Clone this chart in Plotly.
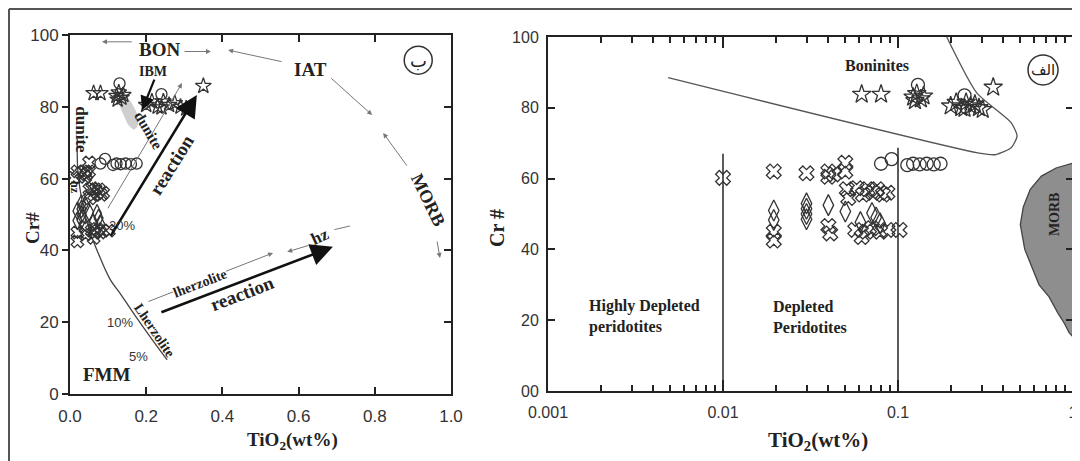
import numpy as np
import plotly.graph_objects as go

W, H = 1080, 461          # browser window
OFF = 8                   # default page body margin
FW, FH = W - OFF, H - OFF # figure size so that it fits the window exactly


def PX(px):
    return (px - OFF) / FW


def PY(py):
    return (H - py) / FH


# ---------------- data (shared by both panels) ----------------
star_tio2 = [0.062, 0.080, 0.122, 0.128, 0.135, 0.140, 0.125, 0.200, 0.215, 0.230,
             0.245, 0.260, 0.275, 0.290, 0.305, 0.240, 0.350]
star_cr = [83.8, 83.8, 83.0, 84.0, 82.5, 83.3, 82.0, 80.5, 81.5, 80.0,
           81.5, 80.5, 81.0, 80.0, 79.5, 79.8, 85.8]

circle_tio2 = [0.130, 0.240, 0.080, 0.092, 0.113, 0.122, 0.133, 0.146, 0.160, 0.175]
circle_cr = [86.5, 83.5, 64.2, 65.5, 63.8, 64.2, 64.0, 64.2, 64.0, 64.2]

cross_tio2 = [0.010, 0.0195, 0.030, 0.040, 0.040, 0.043, 0.050, 0.050, 0.051, 0.052,
              0.058, 0.063, 0.067, 0.072, 0.076, 0.082, 0.087, 0.0195, 0.0195, 0.040,
              0.041, 0.057, 0.062, 0.066, 0.071, 0.079, 0.087, 0.102]
cross_cr = [60.2, 62.0, 61.5, 62.0, 60.5, 61.2, 64.5, 62.0, 57.0, 54.5,
            57.3, 55.5, 57.0, 56.0, 57.0, 55.5, 56.0, 45.0, 42.5, 46.6,
            44.5, 45.5, 43.5, 45.0, 46.0, 45.0, 45.5, 45.5]

diamond_tio2 = [0.0195, 0.0195, 0.030, 0.030, 0.030, 0.030, 0.040, 0.050, 0.061, 0.071,
                0.079, 0.075]
diamond_cr = [51.0, 48.3, 53.0, 51.5, 50.0, 48.5, 52.5, 50.7, 47.7, 50.3, 47.4, 49.0]

# fields / reference lines (right panel)
boninite_tio2 = [0.19, 0.282, 0.443, 0.479, 0.443, 0.363, 0.297, 0.00486]
boninite_cr = [100.0, 84.2, 75.8, 72.0, 68.7, 66.8, 67.1, 88.5]
morb_tio2 = [1.0, 0.80, 0.66, 0.57, 0.52, 0.50, 0.53, 0.57, 0.64, 0.73, 0.82, 0.895, 0.95, 1.0]
morb_cr = [64.4, 63.0, 60.7, 57.0, 52.0, 47.0, 40.0, 36.0, 30.0, 26.6, 22.0, 19.0, 16.5, 15.3]
divider_tio2 = [0.01, 0.1]
divider_top = [67.0, 68.7]

# left panel fields
fmm_tio2 = [0.255, 0.21, 0.166, 0.135, 0.105, 0.075, 0.053, 0.035, 0.025, 0.020, 0.019, 0.019]
fmm_cr = [9.5, 16.0, 22.6, 27.5, 32.0, 39.0, 45.0, 52.0, 58.0, 63.0, 67.0, 71.0]
ibm_tio2 = [0.134, 0.150, 0.165, 0.176, 0.176, 0.168, 0.155, 0.142, 0.131, 0.134]
ibm_cr = [82.7, 82.5, 80.2, 77.4, 74.7, 73.8, 74.9, 77.7, 80.8, 82.7]

x_ticks_lin = [0.0, 0.2, 0.4, 0.6, 0.8, 1.0]
x_ticktext_lin = ['0.0', '0.2', '0.4', '0.6', '0.8', '1.0']
y_ticks = [0, 20, 40, 60, 80, 100]
y_ticktext_left = ['0', '20', '40', '60', '80', '100']
y_ticktext_right = ['00', '20', '40', '60', '80', '100']
x_ticks_log = [0.001, 0.01, 0.1, 1]
x_ticktext_log = ['0.001', '0.01', '0.1', '1']
x_minor_log = [m * d for d in (0.001, 0.01, 0.1) for m in range(2, 10)]

SERIF = 'Liberation Serif'
SANS = 'Liberation Sans'
MC = '#333333'

fig = go.Figure()

# ---------------- lines & fields ----------------
fig.add_trace(go.Scatter(x=morb_tio2, y=morb_cr, mode='lines', fill='toself',
                         fillcolor='#8e8e8e', line=dict(color='#444', width=1.3),
                         xaxis='x2', yaxis='y2', showlegend=False, hoverinfo='skip'))
fig.add_trace(go.Scatter(x=boninite_tio2, y=boninite_cr, mode='lines',
                         line=dict(color='#555', width=1.3, shape='spline', smoothing=0.6),
                         xaxis='x2', yaxis='y2', showlegend=False, hoverinfo='skip'))
for xv, top in zip(divider_tio2, divider_top):
    fig.add_trace(go.Scatter(x=[xv, xv], y=[0, top], mode='lines',
                             line=dict(color='#333', width=1.6),
                             xaxis='x2', yaxis='y2', showlegend=False, hoverinfo='skip'))

fig.add_trace(go.Scatter(x=ibm_tio2, y=ibm_cr, mode='lines', fill='toself',
                         fillcolor='#cfcfcf', line=dict(color='#cfcfcf', width=1, shape='spline'),
                         xaxis='x', yaxis='y', showlegend=False, hoverinfo='skip'))
fig.add_trace(go.Scatter(x=fmm_tio2, y=fmm_cr, mode='lines',
                         line=dict(color='#444', width=1.3, shape='spline'),
                         xaxis='x', yaxis='y', showlegend=False, hoverinfo='skip'))

# ---------------- markers ----------------
sets = [
    (diamond_tio2, diamond_cr, 'diamond-tall-open', 15),
    (cross_tio2, cross_cr, 'x-open', 13),
    (circle_tio2, circle_cr, 'circle-open', 13),
    (star_tio2, star_cr, 'star-open', 14),
]
for xa, ya, scale in (('x', 'y', 0.85), ('x2', 'y2', 1.0)):
    for xs, ys, sym, size in sets:
        fig.add_trace(go.Scatter(x=xs, y=ys, mode='markers',
                                 marker=dict(symbol=sym, size=size * scale, color=MC,
                                             line=dict(width=1.3, color=MC)),
                                 xaxis=xa, yaxis=ya, showlegend=False, hoverinfo='skip'))

# circled panel letters
fig.add_trace(go.Scatter(x=[0.914], y=[93], mode='markers',
                         marker=dict(symbol='circle-open', size=28, color='#333', line=dict(width=1.5)),
                         xaxis='x', yaxis='y', showlegend=False, hoverinfo='skip'))
fig.add_trace(go.Scatter(x=[0.674], y=[90.7], mode='markers',
                         marker=dict(symbol='circle-open', size=30, color='#333', line=dict(width=1.5)),
                         xaxis='x2', yaxis='y2', showlegend=False, hoverinfo='skip'))

# dummy traces for overlay tick axes
fig.add_trace(go.Scatter(x=[None], y=[None], xaxis='x', yaxis='y3', showlegend=False, hoverinfo='skip'))
fig.add_trace(go.Scatter(x=[None], y=[None], xaxis='x4', yaxis='y2', showlegend=False, hoverinfo='skip'))

ann = []


def txt(x, y, s, size, angle=0, xref='x', yref='y', family=SERIF, bold=True,
        color='#222', xanchor='center', align='center', bg=None):
    d = dict(x=x, y=y, xref=xref, yref=yref, text=('<b>%s</b>' % s) if bold else s,
             showarrow=False, textangle=angle, xanchor=xanchor, yanchor='middle', align=align,
             font=dict(family=family, size=size, color=color))
    if bg:
        d['bgcolor'] = bg
        d['borderpad'] = 0
    ann.append(d)


def arrow(x0, y0, x1, y1, color='#777', width=1.0, head=2, size=1.0, xref='x', yref='y'):
    ann.append(dict(x=x1, y=y1, ax=x0, ay=y0, xref=xref, yref=yref, axref=xref, ayref=yref,
                    text='', showarrow=True, arrowhead=head, arrowsize=size,
                    arrowwidth=width, arrowcolor=color, standoff=0, startstandoff=0))


# ---------------- left panel annotations ----------------
arrow(0.166, 98.1, 0.084, 98.1)
arrow(0.297, 95.4, 0.370, 95.4)
txt(0.236, 96.0, 'BON', 19)
txt(0.630, 90.3, 'IAT', 19)
arrow(0.559, 92.5, 0.415, 95.8)
arrow(0.682, 88.3, 0.793, 77.7)
txt(0.940, 54.0, 'MORB', 18, angle=64)
arrow(0.887, 63.2, 0.822, 72.7)
arrow(0.963, 42.9, 0.971, 37.9)
txt(0.914, 93.0, 'ب', 18, family='DejaVu Sans', bold=False, color='#222')
txt(0.218, 89.7, 'IBM', 14)
arrow(0.223, 88.0, 0.189, 79.0, color='#111', width=2.2, head=2, size=1.3)
arrow(0.105, 43.7, 0.333, 83.3, color='#111', width=2.6, head=2, size=1.7)
txt(0.267, 64.0, 'reaction', 19, angle=-58)
arrow(0.097, 51.3, 0.294, 86.6, color='#777', width=1.0)
txt(0.205, 73.5, 'dunite', 15, angle=60)
txt(0.031, 73.5, 'dunite', 17, angle=90)
txt(0.013, 57.4, 'hz', 12, angle=90)
txt(0.136, 47.0, '20%', 13, family=SANS, bold=False, color='#333')
txt(0.131, 20.0, '10%', 13, family=SANS, bold=False, color='#333')
txt(0.179, 10.5, '5%', 13, family=SANS, bold=False, color='#333')
txt(0.222, 17.8, 'Lherzolite', 14, angle=56)
txt(0.097, 5.5, 'FMM', 19)
arrow(0.202, 25.6, 0.533, 39.3, color='#777', width=1.0)
txt(0.341, 30.9, 'lherzolite', 14, angle=-21, bg='white')
arrow(0.236, 22.6, 0.690, 41.0, color='#111', width=2.6, head=2, size=1.7)
txt(0.452, 27.9, 'reaction', 19, angle=-21)
txt(0.656, 44.0, 'hz', 17, angle=-25)
arrow(0.630, 41.5, 0.570, 39.6)
arrow(0.690, 45.7, 0.735, 46.8, head=0)

# ---------------- right panel annotations ----------------
lg = np.log10
txt(lg(0.076), 92.0, 'Boninites', 16, xref='x2', yref='y2')
txt(lg(0.00166), 21.0, 'Highly Depleted<br>peridotites', 16, xref='x2', yref='y2',
    xanchor='left', align='left')
txt(lg(0.0188), 21.0, 'Depleted<br>Peridotites', 16, xref='x2', yref='y2',
    xanchor='left', align='left')
txt(lg(0.78), 50.0, 'MORB', 14, angle=-90, xref='x2', yref='y2', color='#222')
txt(lg(0.674), 90.7, 'الف', 15, xref='x2', yref='y2', family='DejaVu Sans', bold=False)

# axis titles
txt(PX(292), PY(441), 'TiO<sub>2</sub>(wt%)', 19, xref='paper', yref='paper')
txt(PX(818), PY(441), 'TiO<sub>2</sub>(wt%)', 21, xref='paper', yref='paper')
txt(PX(32), PY(228), 'Cr#', 19, angle=-90, xref='paper', yref='paper')
txt(PX(497), PY(228), 'Cr #', 20, angle=-90, xref='paper', yref='paper')

axis_common = dict(showgrid=False, zeroline=False, showline=True, linecolor='#222',
                   linewidth=2, tickcolor='#222', tickwidth=1.5, automargin=False)
overlay_common = dict(showticklabels=False, showgrid=False, zeroline=False, showline=False,
                      tickcolor='#222', tickwidth=1.5, automargin=False)

fig.update_layout(
    template='none',
    width=FW, height=FH,
    autosize=False,
    margin=dict(l=0, r=0, t=0, b=0, pad=0, autoexpand=False),
    paper_bgcolor='white', plot_bgcolor='white',
    showlegend=False,
    annotations=ann,
    xaxis=dict(domain=[PX(70), PX(451)], range=[0, 1], anchor='y',
               tickvals=x_ticks_lin, ticktext=x_ticktext_lin,
               ticks='inside', ticklen=7, mirror='ticks', ticklabelstandoff=6,
               tickfont=dict(family=SANS, size=17, color='#333'), **axis_common),
    yaxis=dict(domain=[PY(394), PY(35)], range=[0, 100], anchor='x',
               tickvals=y_ticks, ticktext=y_ticktext_left,
               ticks='outside', ticklen=6, mirror=True,
               tickfont=dict(family=SANS, size=17, color='#333'), **axis_common),
    yaxis3=dict(overlaying='y', side='right', anchor='x', range=[0, 100],
                tickvals=[20, 40, 60, 80], ticks='inside', ticklen=7, **overlay_common),
    xaxis2=dict(domain=[PX(548), PX(1073)], type='log', range=[-3, 0], anchor='y2',
                tickvals=x_ticks_log, ticktext=x_ticktext_log,
                ticks='inside', ticklen=11, mirror='ticks', ticklabelstandoff=6,
                tickfont=dict(family=SANS, size=16, color='#333'), **axis_common),
    xaxis4=dict(overlaying='x2', anchor='y2', type='log', range=[-3, 0],
                tickvals=x_minor_log, ticks='inside', ticklen=6, mirror='ticks',
                **overlay_common),
    yaxis2=dict(domain=[PY(391), PY(37)], range=[0, 100], anchor='x2',
                tickvals=y_ticks, ticktext=y_ticktext_right,
                ticks='inside', ticklen=7, mirror='ticks', ticklabelstandoff=4,
                tickfont=dict(family=SANS, size=16, color='#333'), **axis_common),
    shapes=[
        dict(type='line', xref='paper', yref='paper', x0=PX(9), x1=1, y0=PY(9), y1=PY(9),
             line=dict(color='#555', width=2)),
        dict(type='line', xref='paper', yref='paper', x0=PX(9), x1=PX(9), y0=0, y1=PY(9),
             line=dict(color='#555', width=2)),
    ],
)

fig.write_html('out.html')
